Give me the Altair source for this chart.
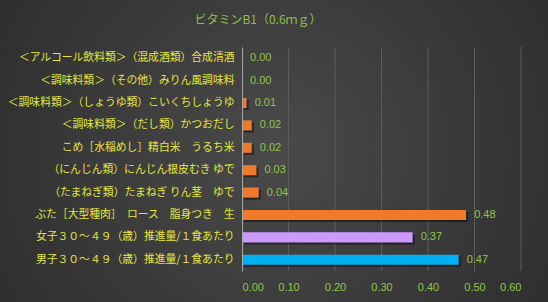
import altair as alt
import pandas as pd

categories = [
    "＜アルコール飲料類＞（混成酒類）合成清酒",
    "＜調味料類＞（その他）みりん風調味料",
    "＜調味料類＞（しょうゆ類）こいくちしょうゆ",
    "＜調味料類＞（だし類）かつおだし",
    "こめ［水稲めし］精白米　うるち米",
    "（にんじん類）にんじん根皮むき ゆで",
    "（たまねぎ類）たまねぎ りん茎　ゆで",
    "ぶた［大型種肉］　ロース　脂身つき　生",
    "女子３０～４９（歳）推進量/１食あたり",
    "男子３０～４９（歳）推進量/１食あたり",
]
values = [0.0, 0.0, 0.01, 0.021, 0.021, 0.031, 0.036, 0.482, 0.367, 0.466]
groups = ["food"] * 8 + ["female", "male"]
ticks = [0.0, 0.1, 0.2, 0.3, 0.4, 0.5, 0.6]
title_text = "ビタミンB1（0.6ｍｇ）"

df = pd.DataFrame({"name": categories, "value": values, "group": groups})
tdf = pd.DataFrame({"value": ticks[1:]})

W, H = 279, 224
PL, PT, PR, PB = 242, 47, 27, 31

bg = alt.Chart(pd.DataFrame({"a": [0]})).mark_rect(
    fill={
        "gradient": "radial",
        "x1": 0.5, "y1": 0.5, "r1": 0.0,
        "x2": 0.5, "y2": 0.5, "r2": 0.75,
        "stops": [
            {"offset": 0.0, "color": "#4a4a4a"},
            {"offset": 1.0, "color": "#262626"},
        ],
    }
).encode(
    x=alt.value(-PL), x2=alt.value(W + PR),
    y=alt.value(-PT), y2=alt.value(H + PB),
)

xscale = alt.Scale(domain=[0, 0.6], nice=False)
xaxis = alt.Axis(
    title=None, values=ticks, format=".2f", domain=False, ticks=False,
    labelColor="#92c44a", labelFont="Liberation Sans", labelFontSize=11,
    labelPadding=10, grid=False, zindex=1,
)
xenc = alt.X("value:Q", scale=xscale, axis=xaxis)

grid = alt.Chart(tdf).mark_rule(color="#5c5c5c", strokeWidth=1).encode(
    x=xenc,
    y=alt.value(0), y2=alt.value(H),
)

yenc = alt.Y(
    "name:N", sort=categories,
    scale=alt.Scale(paddingInner=0.55, paddingOuter=0.275),
    axis=alt.Axis(
        title=None, ticks=False, domain=True, domainColor="#a8a8a8", domainWidth=1,
        labelColor="#e6e63c", labelFont="Noto Sans CJK JP", labelFontSize=10.8,
        labelPadding=8, labelLimit=300, grid=False, zindex=1,
    ),
)

shadow = alt.Chart(df).mark_bar(
    color="#000000", opacity=0.45, xOffset=2, yOffset=2
).encode(x=xenc, y=yenc)

bars = alt.Chart(df).mark_bar().encode(
    x=xenc, y=yenc,
    color=alt.Color(
        "group:N",
        scale=alt.Scale(domain=["food", "female", "male"],
                        range=["#f07a2a", "#cc99ff", "#00b0f0"]),
        legend=None,
    ),
)

labels = alt.Chart(df).mark_text(
    align="left", baseline="middle", dx=8, color="#92c44a",
    font="Liberation Sans", fontSize=11,
).encode(x=xenc, y=yenc, text=alt.Text("value:Q", format=".2f"))

title = alt.Chart(pd.DataFrame({"t": [title_text]})).mark_text(
    align="center", baseline="middle", color="#8cc04a",
    font="Noto Sans CJK JP", fontSize=12,
).encode(x=alt.value(258 - PL), y=alt.value(20 - PT), text="t:N")

chart = alt.layer(bg, grid, shadow, bars, labels, title).properties(
    width=W, height=H,
    padding={"left": PL, "top": PT, "right": PR, "bottom": PB},
    autosize=alt.AutoSizeParams(type="none"),
    background="#333333",
).configure_view(stroke=None)

chart.save("out.html", embed_options={"renderer": "svg", "actions": False})
